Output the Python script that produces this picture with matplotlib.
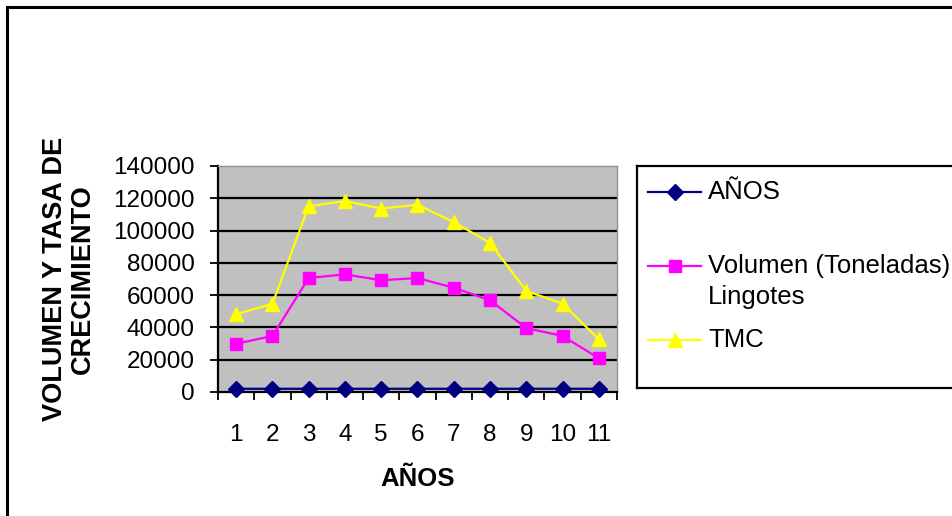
import matplotlib
matplotlib.use("Agg")
import matplotlib.pyplot as plt
from matplotlib.patches import Rectangle
from matplotlib.lines import Line2D
import numpy as np

plt.rcParams['font.family'] = ['Liberation Sans', 'DejaVu Sans']

categories = ['1', '2', '3', '4', '5', '6', '7', '8', '9', '10', '11']
anos = [1995, 1996, 1997, 1998, 1999, 2000, 2001, 2002, 2003, 2004, 2005]
volumen = [29900, 34700, 70600, 72900, 69200, 70600, 64600, 56800, 39600, 34700, 20900]
tmc = [48100, 54700, 115000, 118300, 113600, 116000, 105300, 92300, 62600, 54700, 32600]
yticks = [0, 20000, 40000, 60000, 80000, 100000, 120000, 140000]
series_labels = ['AÑOS', 'Volumen (Toneladas)\nLingotes', 'TMC']

W, H = 953, 516
fig = plt.figure(figsize=(W / 100, H / 100), dpi=100)

# outer chart border (top and left visible)
fig.add_artist(Rectangle((7 / W, -0.05), 1.1, (H - 7) / H + 0.05, transform=fig.transFigure,
                         fill=False, edgecolor='black', linewidth=2.2, clip_on=False))

ax = fig.add_axes([218 / W, (H - 392) / H, (617 - 218) / W, (392 - 166) / H])
ax.set_facecolor('#C0C0C0')
x = np.arange(len(categories))

styles = [('#000080', 'D', 8.5), ('#FF00FF', 's', 8.5), ('#FFFF00', '^', 10.5)]
for (c, m, ms), vals in zip(styles, [anos, volumen, tmc]):
    ax.plot(x, vals, color=c, marker=m, markersize=ms, linewidth=1.6,
            markeredgecolor=c, clip_on=False, zorder=3)

ax.set_xlim(-0.5, len(categories) - 0.5)
ax.set_ylim(0, 140000)
ax.set_yticks(yticks)
ax.set_yticklabels([str(v) for v in yticks])
ax.set_xticks(x)
ax.set_xticklabels(categories)
ax.set_xticks(np.arange(-0.5, len(categories), 1.0), minor=True)
ax.tick_params(axis='x', which='major', length=0, pad=23, labelsize=17.5)
ax.tick_params(axis='x', which='minor', length=6, width=1.3, direction='out')
ax.tick_params(axis='y', which='major', length=6, width=1.3, direction='out', pad=11, labelsize=17.5)

ax.yaxis.grid(True, color='black', linewidth=1.6)
ax.set_axisbelow(True)
gl = ax.get_ygridlines()
gl[-1].set_visible(False)
gl[0].set_visible(False)

for s in ['left', 'bottom']:
    ax.spines[s].set_color('black')
    ax.spines[s].set_linewidth(1.6)
for s in ['top', 'right']:
    ax.spines[s].set_color('#909090')
    ax.spines[s].set_linewidth(1.0)

ax.set_xlabel('AÑOS', fontsize=18.5, fontweight='bold', labelpad=15)
ax.set_ylabel('VOLUMEN Y TASA DE\nCRECIMIENTO', fontsize=19.5, fontweight='bold',
              labelpad=12, linespacing=1.1)

# legend box
lax = fig.add_axes([637 / W, (H - 388) / H, (W + 10 - 637) / W, (388 - 166) / H])
lax.set_xlim(637, W + 10)
lax.set_ylim(388, 166)
lax.set_xticks([])
lax.set_yticks([])
lax.set_facecolor('white')
for s in lax.spines.values():
    s.set_linewidth(1.6)
    s.set_color('black')
lax.spines['right'].set_visible(False)

entry_y = [192, 266, 340]
for (c, m, ms), ey in zip(styles, entry_y):
    lax.add_line(Line2D([648, 701], [ey, ey], color=c, linewidth=1.6))
    lax.add_line(Line2D([674.5], [ey], color=c, marker=m, markersize=ms,
                        markeredgecolor=c, linestyle='none'))

lax.text(708, 192, series_labels[0], fontsize=18.5, va='center', ha='left')
lax.text(708, 266, series_labels[1].split('\n')[0], fontsize=18.5, va='center', ha='left')
lax.text(708, 297, series_labels[1].split('\n')[1], fontsize=18.5, va='center', ha='left')
lax.text(708, 340, series_labels[2], fontsize=18.5, va='center', ha='left')

fig.savefig('out.png', dpi=100)
